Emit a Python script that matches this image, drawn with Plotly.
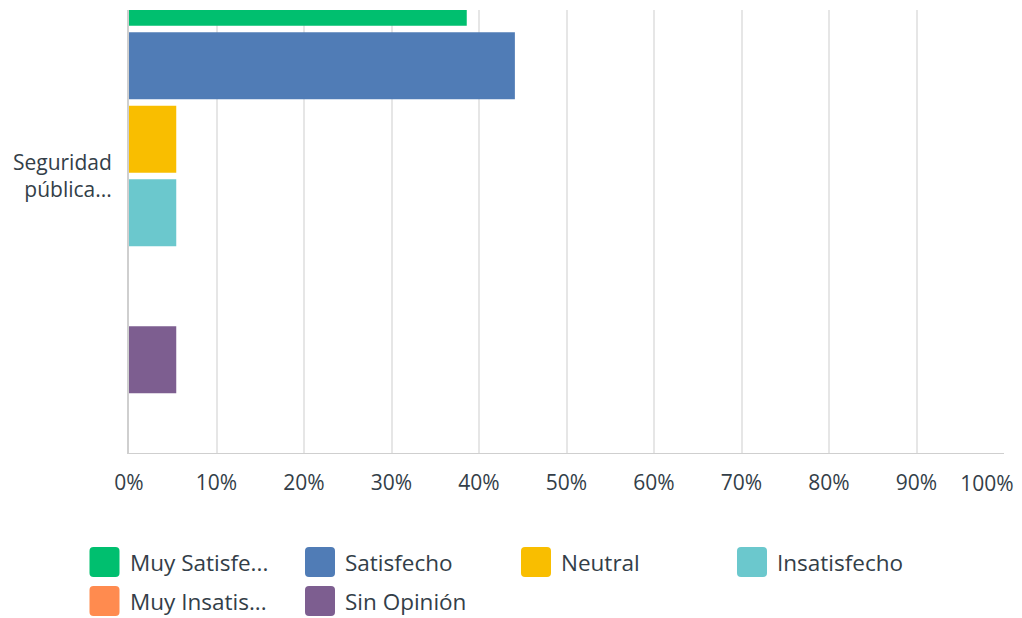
import plotly.graph_objects as go

# ---- data ----
categories = ["Seguridad pública..."]
category_ticktext = ["Seguridad<br>pública..."]
series_names = ["Muy Satisfe...", "Satisfecho", "Neutral", "Insatisfecho", "Muy Insatis...", "Sin Opinión"]
series_values = [38.6, 44.1, 5.4, 5.4, 0.0, 5.4]
series_colors = ["#00bf6f", "#507cb6", "#f9be00", "#6bc8cd", "#ff8b4f", "#7d5e90"]
x_tickvals = [0, 10, 20, 30, 40, 50, 60, 70, 80, 90, 100]
x_ticktext = ["0%", "10%", "20%", "30%", "40%", "50%", "60%", "70%", "80%", "90%", "100%"]

# ---- layout geometry (pixels) ----
W, H = 1022, 618
ML, MR, MT, MB = 129, 18, 10, 165
PW = W - ML - MR
PH = H - MT - MB
FONT = "Open Sans"
TEXT_COLOR = "#333e48"

fig = go.Figure()
for name, val, col in zip(series_names, series_values, series_colors):
    fig.add_trace(go.Bar(
        y=categories, x=[val], name=name, orientation="h",
        marker=dict(color=col, line=dict(width=0)),
        showlegend=False, hoverinfo="x+name",
    ))

# invisible helper trace that activates the secondary x axis (used only for the
# last tick label, which is nudged left to stay inside the chart)
fig.add_trace(go.Scatter(
    x=x_tickvals[-1:], y=categories, xaxis="x2", yaxis="y",
    mode="markers", marker=dict(opacity=0, size=1),
    showlegend=False, hoverinfo="skip",
))

def px2paper(px, py):
    return (px - ML) / PW, (MT + PH - py) / PH

# custom legend: rounded swatches + labels
shapes = []
annotations = []
col_x = [89.5, 305, 521, 737]
row_y = [547, 586]
sw = 30
r = 4
for i, (name, col) in enumerate(zip(series_names, series_colors)):
    cx = col_x[i % 4]
    cy = row_y[i // 4]
    x0, y0 = cx, cy
    x1, y1 = cx + sw, cy + sw
    def P(x, y):
        a, b = px2paper(x, y)
        return f"{a:.6f},{b:.6f}"
    path = (f"M {P(x0 + r, y0)} L {P(x1 - r, y0)} Q {P(x1, y0)} {P(x1, y0 + r)} "
            f"L {P(x1, y1 - r)} Q {P(x1, y1)} {P(x1 - r, y1)} "
            f"L {P(x0 + r, y1)} Q {P(x0, y1)} {P(x0, y1 - r)} "
            f"L {P(x0, y0 + r)} Q {P(x0, y0)} {P(x0 + r, y0)} Z")
    shapes.append(dict(type="path", xref="paper", yref="paper", path=path,
                       fillcolor=col, line=dict(width=0), layer="above"))
    tx, ty = px2paper(cx + sw + 8, cy + sw / 2)
    annotations.append(dict(xref="paper", yref="paper", x=tx, y=ty, text=name,
                            showarrow=False, xanchor="left", yanchor="middle",
                            font=dict(family=FONT, size=22.5, color=TEXT_COLOR)))

# y range so the group is positioned as in the reference (reversed axis)
unit = 441.0
cat_center_px = 176.0
y_top = (MT - cat_center_px) / unit
y_bot = (MT + PH - cat_center_px) / unit

tick_font = dict(family=FONT, size=21, color=TEXT_COLOR)

fig.update_layout(
    width=W, height=H, autosize=False,
    margin=dict(l=ML, r=MR, t=MT, b=MB, pad=0, autoexpand=False),
    paper_bgcolor="white", plot_bgcolor="white",
    barmode="group", bargap=0.0, bargroupgap=0.09,
    font=dict(family=FONT, size=21, color=TEXT_COLOR),
    xaxis=dict(
        range=[0, 100], tickmode="array", tickvals=x_tickvals,
        ticktext=x_ticktext[:-1] + [""],
        showgrid=True, gridcolor="#e6e6e6", gridwidth=2,
        showline=True, linecolor="#cfcfcf", linewidth=1,
        zeroline=False, ticks="", ticklabelstandoff=11,
        automargin=False, tickfont=tick_font, fixedrange=True,
    ),
    xaxis2=dict(
        overlaying="x", anchor="y", side="bottom",
        range=[0, 100], tickmode="array", tickvals=x_tickvals[-1:],
        ticktext=x_ticktext[-1:], ticklabelshift=-17, ticklabeloverflow="allow",
        showgrid=False, showline=False, zeroline=False, ticks="",
        ticklabelstandoff=16, automargin=False, tickfont=tick_font,
        fixedrange=True,
    ),
    yaxis=dict(
        type="category", range=[y_bot, y_top],
        tickvals=categories, ticktext=category_ticktext,
        showgrid=False, showline=True, linecolor="#cfcfcf", linewidth=2,
        zeroline=False, ticks="", ticklabelstandoff=11, automargin=False,
        tickfont=tick_font, fixedrange=True,
    ),
    shapes=shapes,
    annotations=annotations,
    showlegend=False,
)

fig.write_html(
    "out.html",
    config={"displayModeBar": False},
    post_script="document.body.style.margin='0';document.body.style.overflow='hidden';",
)
